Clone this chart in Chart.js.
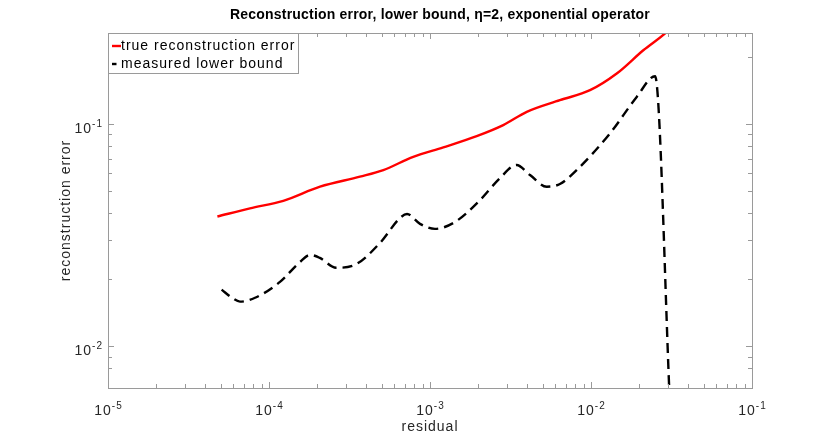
<!DOCTYPE html>
<html>
<head>
<meta charset="utf-8">
<script src="https://cdn.jsdelivr.net/npm/chart.js@4.4.1/dist/chart.umd.min.js"></script>
<style>
  html, body { margin: 0; padding: 0; background: #fff; }
  #chart { display: block; }
</style>
</head>
<body>
<canvas id="chart" width="830" height="436"></canvas>
<script>
// values (log-log axes)
const residualTrue = [4.78e-5, 7.62e-5, 1.227e-4, 2.075e-4, 3.67e-4, 5.13e-4, 7.87e-4, 1.21e-3, 1.95e-3,
  2.85e-3, 3.99e-3, 6.41e-3, 9.86e-3, 0.01445, 0.02113, 0.0295, 0.031];
const errorTrue = [0.0384, 0.0418, 0.0452, 0.0523, 0.0580, 0.0621, 0.0713, 0.0786, 0.0883,
  0.0990, 0.1135, 0.1281, 0.1421, 0.1689, 0.2149, 0.2597, 0.27];

const residualBound = [5.08e-5, 5.89e-5, 6.6e-5, 8.19e-5, 1.17e-4, 1.56e-4, 1.80e-4, 2.07e-4, 2.61e-4,
  3.42e-4, 4.89e-4, 6.51e-4, 7.2e-4, 8.67e-4, 1.074e-3, 1.43e-3, 2.05e-3, 2.72e-3, 3.45e-3,
  4.18e-3, 5.31e-3, 6.41e-3, 8.14e-3, 0.01312, 0.01923, 0.0250, 0.031];
const lowerBound = [0.0180, 0.01655, 0.0159, 0.01655, 0.0195, 0.0240, 0.0258, 0.0250, 0.0226,
  0.0233, 0.0292, 0.0378, 0.0394, 0.0356, 0.0338, 0.0363, 0.0456, 0.0572, 0.0655,
  0.0590, 0.0523, 0.0538, 0.0621, 0.0908, 0.1326, 0.1642, 0.0052];

const seriesLabels = ["true reconstruction error", "measured lower bound"];
const titleText = "Reconstruction error, lower bound, \u03b7=2, exponential operator";
const xRange = [1e-5, 0.1];
const yRange = [0.0065, 0.257];

const FONT = "'Liberation Sans', Arial, Helvetica, sans-serif";
const AXIS_COLOR = "#9a9a9a";
const TEXT_COLOR = "#262626";

function tickKind(v) {
  const e = Math.floor(Math.log10(v) + 1e-9);
  const m = v / Math.pow(10, e);
  if (Math.abs(m - 1) < 1e-6) return "major";
  if (Math.abs(m - Math.round(m)) < 1e-6 && m >= 2 && m <= 9) return "minor";
  return null;
}

function toPoints(xs, ys) {
  return xs.map((x, i) => ({ x: x, y: ys[i] }));
}

// "10" with a raised exponent, like the tex labels of the original
function drawPower(ctx, v, x, y, align) {
  const exp = String(Math.round(Math.log10(v)));
  ctx.font = "14px " + FONT;
  const wb = ctx.measureText("10").width;
  ctx.font = "10px " + FONT;
  const we = ctx.measureText(exp).width;
  const start = align === "center" ? x - (wb + we) / 2 : x - (wb + we);
  ctx.textAlign = "left";
  ctx.textBaseline = "alphabetic";
  ctx.font = "14px " + FONT;
  ctx.fillText("10", start, y);
  ctx.font = "10px " + FONT;
  ctx.fillText(exp, start + wb, y - 6);
}

// box round the axes, inward ticks on all four sides, tick labels, title and legend
const boxTicks = {
  id: "boxTicks",
  beforeDraw(chart) {
    chart.ctx.letterSpacing = "1px";
  },
  afterDraw(chart) {
    const { ctx, chartArea: a, scales } = chart;
    ctx.save();
    ctx.letterSpacing = "1px";
    ctx.strokeStyle = AXIS_COLOR;
    ctx.lineWidth = 1;
    ctx.setLineDash([]);
    ctx.fillStyle = TEXT_COLOR;
    ctx.beginPath();
    scales.x.ticks.forEach((t) => {
      const kind = tickKind(t.value);
      if (!kind) return;
      const len = kind === "major" ? 6 : 4;
      const px = Math.round(scales.x.getPixelForValue(t.value)) + 0.5;
      ctx.moveTo(px, a.bottom);
      ctx.lineTo(px, a.bottom - len);
      ctx.moveTo(px, a.top);
      ctx.lineTo(px, a.top + len);
      if (kind === "major") drawPower(ctx, t.value, px, a.bottom + 27, "center");
    });
    scales.y.ticks.forEach((t) => {
      const kind = tickKind(t.value);
      if (!kind) return;
      const len = kind === "major" ? 6 : 4;
      const py = Math.round(scales.y.getPixelForValue(t.value)) + 0.5;
      ctx.moveTo(a.left, py);
      ctx.lineTo(a.left + len, py);
      ctx.moveTo(a.right, py);
      ctx.lineTo(a.right - len, py);
      if (kind === "major") drawPower(ctx, t.value, a.left - 5, py + 8.5, "right");
    });
    ctx.stroke();
    ctx.strokeRect(Math.round(a.left) + 0.5, Math.round(a.top) + 0.5,
      Math.round(a.right - a.left), Math.round(a.bottom - a.top));

    // title, sits a little right of the axes centre in the original
    ctx.letterSpacing = "0.2px";
    ctx.fillStyle = "#000000";
    ctx.font = "bold 14px " + FONT;
    ctx.textAlign = "center";
    ctx.textBaseline = "middle";
    ctx.fillText(titleText, (a.left + a.right) / 2 + 10, 15);
    ctx.letterSpacing = "1px";

    // legend in the top left corner
    const lx = Math.round(a.left) + 0.5, ly = Math.round(a.top) + 0.5;
    const lw = 190, lh = 40;
    ctx.fillStyle = "#ffffff";
    ctx.fillRect(lx, ly, lw, lh);
    ctx.strokeStyle = AXIS_COLOR;
    ctx.strokeRect(lx, ly, lw, lh);
    const ds = chart.data.datasets;
    const rows = [ly + 12.5, ly + 30.5];
    ds.forEach((d, i) => {
      ctx.strokeStyle = d.borderColor;
      ctx.lineWidth = d.borderWidth;
      ctx.setLineDash([]);
      ctx.beginPath();
      ctx.moveTo(lx + 3.5, rows[i]);
      ctx.lineTo(lx + (i === 0 ? 12.5 : 8), rows[i]);
      ctx.stroke();
      ctx.fillStyle = "#000000";
      ctx.font = "14px " + FONT;
      ctx.textAlign = "left";
      ctx.textBaseline = "middle";
      ctx.fillText(d.label, lx + 12.5, rows[i] + 0.5);
    });
    ctx.restore();
  },
};

Chart.defaults.font.family = FONT;
Chart.defaults.color = TEXT_COLOR;

const ctx = document.getElementById("chart");
new Chart(ctx, {
  type: "line",
  data: {
    datasets: [
      {
        label: seriesLabels[0],
        data: toPoints(residualTrue, errorTrue),
        borderColor: "#ff0000",
        borderWidth: 2.4,
        pointRadius: 0,
        cubicInterpolationMode: "monotone",
        fill: false,
        clip: 0,
      },
      {
        label: seriesLabels[1],
        data: toPoints(residualBound, lowerBound),
        borderColor: "#000000",
        borderWidth: 2.4,
        borderDash: [10, 6],
        pointRadius: 0,
        cubicInterpolationMode: "monotone",
        fill: false,
        clip: 0,
      },
    ],
  },
  options: {
    responsive: false,
    animation: false,
    devicePixelRatio: 1,
    layout: { padding: { left: 50, right: 78, top: 33, bottom: 0 } },
    plugins: {
      legend: { display: false },
      tooltip: { enabled: false },
      title: { display: false },
    },
    scales: {
      x: {
        type: "logarithmic",
        min: xRange[0],
        max: xRange[1],
        grid: { display: false },
        border: { display: false },
        ticks: { display: false, autoSkip: false },
        title: {
          display: true,
          text: "residual",
          font: { size: 14 },
          padding: { top: 0, bottom: 0 },
        },
        afterFit: (scale) => { scale.height = 48; },
      },
      y: {
        type: "logarithmic",
        min: yRange[0],
        max: yRange[1],
        grid: { display: false },
        border: { display: false },
        ticks: { display: false, autoSkip: false },
        title: {
          display: true,
          text: "reconstruction error",
          font: { size: 14 },
          padding: { top: 8, bottom: 0 },
        },
        afterFit: (scale) => { scale.width = 58; },
      },
    },
  },
  plugins: [boxTicks],
});
</script>
</body>
</html>
